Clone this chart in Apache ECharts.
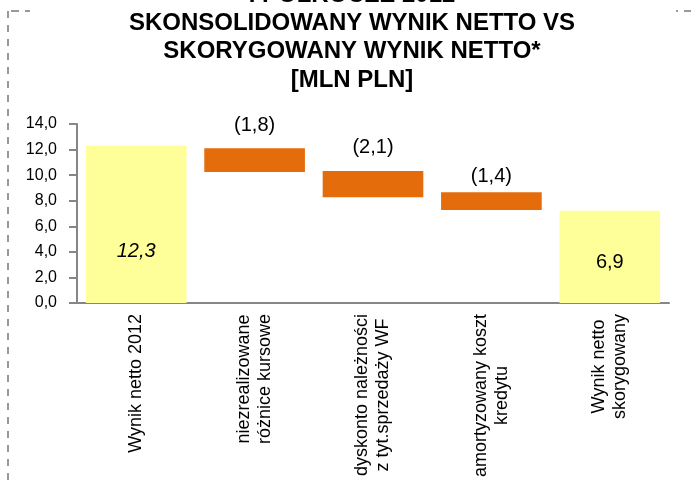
<!DOCTYPE html>
<html>
<head>
<meta charset="utf-8">
<script src="https://cdn.jsdelivr.net/npm/echarts@6/dist/echarts.min.js"></script>
<style>
html,body{margin:0;padding:0;background:#fff;}
#chart{width:691px;height:480px;}
</style>
</head>
<body>
<div id="chart"></div>
<script>
// ---- data ----
var categories = ['Wynik netto 2012', 'niezrealizowane\nróżnice kursowe', 'dyskonto należności\nz tyt.sprzedaży WF', 'amortyzowany koszt\nkredytu', 'Wynik netto\nskorygowany'];
var barBottom = [0, 10.25, 8.27, 7.27, 0];
var barTop = [12.3, 12.1, 10.32, 8.66, 7.22];
var valueLabels = ['12,3', '(1,8)', '(2,1)', '(1,4)', '6,9'];
var yTicks = [0, 2, 4, 6, 8, 10, 12, 14];
var titleLines = ['I PÓŁROCZE 2012', 'SKONSOLIDOWANY WYNIK NETTO VS', 'SKORYGOWANY WYNIK NETTO*', '[MLN PLN]'];

// ---- styling ----
var FONT = '"Liberation Sans", Arial, sans-serif';
var YELLOW = '#FFFF99';
var ORANGE = '#E46C0A';
var AXIS = '#868686';
var labelStyles = [
  {position: 'inside', offset: [0, 27], fontStyle: 'italic'},
  {position: 'top', distance: 13},
  {position: 'top', distance: 14},
  {position: 'top', distance: 6},
  {position: 'inside', offset: [0, 6]}
];

var chart = echarts.init(document.getElementById('chart'), null, {renderer: 'canvas'});

var heights = barTop.map(function (t, i) { return t - barBottom[i]; });
var mainData = heights.map(function (h, i) {
  var isTotal = (i === 0 || i === heights.length - 1);
  var ls = labelStyles[i];
  return {
    value: h,
    itemStyle: {color: isTotal ? YELLOW : ORANGE},
    label: Object.assign({
      show: true,
      formatter: valueLabels[i],
      color: '#000',
      fontSize: 20,
      fontFamily: FONT
    }, ls)
  };
});

var option = {
  animation: false,
  backgroundColor: '#fff',
  graphic: [
    {type: 'line', shape: {x1: 8, y1: 11, x2: 8, y2: 480}, style: {stroke: '#999', lineWidth: 2, lineDash: [7, 7]}, silent: true},
    {type: 'line', shape: {x1: 11, y1: 11, x2: 30, y2: 11}, style: {stroke: '#999', lineWidth: 2, lineDash: [8, 6]}, silent: true},
    {type: 'line', shape: {x1: 676, y1: 11, x2: 691, y2: 11}, style: {stroke: '#999', lineWidth: 2, lineDash: [2, 6, 8, 6]}, silent: true},
    {
      type: 'text',
      silent: true,
      x: 352,
      y: -19,
      style: {
        text: titleLines.join('\n'),
        align: 'center',
        verticalAlign: 'top',
        fontSize: 24,
        fontWeight: 'bold',
        fontFamily: FONT,
        fill: '#000',
        lineHeight: 28.3
      }
    }
  ],
  grid: {left: 77, right: 22, top: 124, bottom: 177, containLabel: false},
  xAxis: {
    type: 'category',
    data: categories,
    axisLine: {show: true, lineStyle: {color: AXIS, width: 2}},
    axisTick: {show: false},
    axisLabel: {
      interval: 0,
      rotate: 90,
      margin: 11,
      color: '#000',
      fontSize: 18,
      fontFamily: FONT,
      lineHeight: 21,
      formatter: function (v) {
        return v.split('\n').map(function (s) { return '{c|' + s + '}'; }).join('\n');
      },
      rich: {c: {align: 'center', fontSize: 18, fontFamily: FONT, color: '#000', lineHeight: 21}}
    }
  },
  yAxis: {
    type: 'value',
    min: yTicks[0],
    max: yTicks[yTicks.length - 1],
    interval: yTicks[1] - yTicks[0],
    axisLine: {show: true, lineStyle: {color: AXIS, width: 2}},
    axisTick: {show: true, length: 8, lineStyle: {color: AXIS, width: 2}},
    splitLine: {show: false},
    axisLabel: {
      margin: 20,
      color: '#000',
      fontSize: 16,
      fontFamily: FONT,
      formatter: function (v) { return v.toFixed(1).replace('.', ','); }
    }
  },
  series: [
    {
      type: 'bar',
      stack: 'w',
      silent: true,
      data: barBottom,
      itemStyle: {color: 'rgba(0,0,0,0)'},
      barCategoryGap: '15%'
    },
    {
      type: 'bar',
      stack: 'w',
      data: mainData,
      barCategoryGap: '15%'
    }
  ]
};
chart.setOption(option);
</script>
</body>
</html>
